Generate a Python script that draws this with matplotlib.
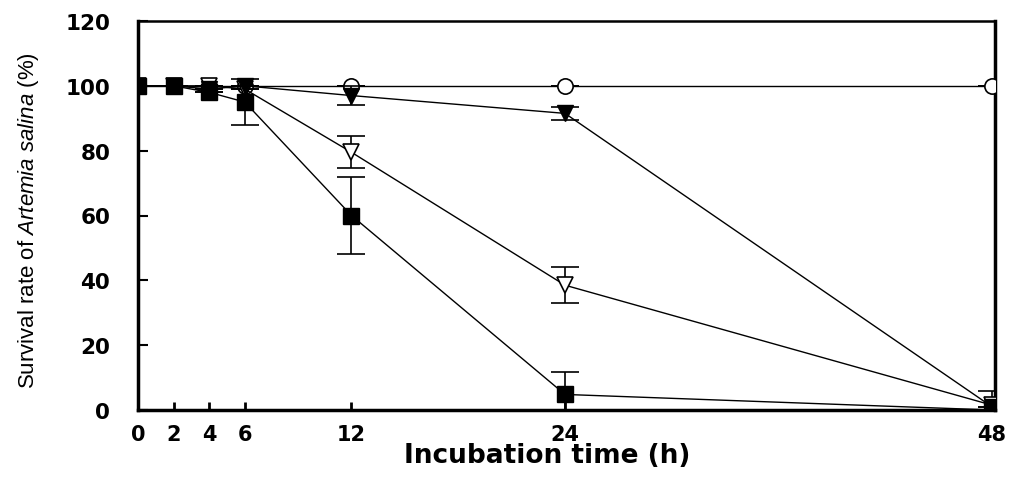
import matplotlib
matplotlib.use("Agg")
import matplotlib.pyplot as plt

plt.rcParams['mathtext.fontset'] = 'custom'
plt.rcParams['mathtext.rm'] = 'Liberation Sans'
plt.rcParams['mathtext.it'] = 'Liberation Sans:italic'
plt.rcParams['mathtext.bf'] = 'Liberation Sans:bold'

time_h = [0, 2, 4, 6, 12, 24, 48]
x_ticks = [0, 2, 4, 6, 12, 24, 48]
y_ticks = [0, 20, 40, 60, 80, 100, 120]

control = [100, 100, 100, 100, 100, 100, 100]
control_err = [0, 0, 0, 0, 0, 0, 0]

filled_tri = [100, 100, 99, 100, 97, 91.5, 1]
filled_tri_err = [0, 0, 0, 0, 3, 2, 0]

open_tri = [100, 100, 100, 99, 79.5, 38.5, 1.5]
open_tri_err = [0, 0, 0, 0, 5, 5.5, 4.5]

square = [100, 100, 98, 95, 60, 4.8, 0]
square_err = [0, 0, 0, 7, 12, 7, 0]

fig = plt.figure(figsize=(10.12, 4.85), dpi=100)
ax = fig.add_axes([138/1012, 74/485, (995-138)/1012, (411-22)/485])

common = dict(color='black', lw=1.0, capsize=10, elinewidth=1.2, capthick=1.2, markersize=11)
ax.errorbar(time_h, control, yerr=control_err, marker='o', mfc='white', mec='black',
            mew=1.2, zorder=3, **common)
ax.errorbar(time_h, open_tri, yerr=open_tri_err, marker='v', mfc='white', mec='black',
            mew=1.2, zorder=4, **common)
ax.errorbar(time_h, filled_tri, yerr=filled_tri_err, marker='v', mfc='black', mec='black',
            zorder=5, **common)
ax.errorbar(time_h, square, yerr=square_err, marker='s', mfc='black', mec='black',
            zorder=6, **common)

ax.set_xlim(0, 48.17)
ax.set_ylim(0, 120)
ax.set_xticks(x_ticks)
ax.set_yticks(y_ticks)
ax.set_xticklabels([str(v) for v in x_ticks], fontfamily='DejaVu Sans', fontweight='bold', fontsize=15)
ax.set_yticklabels([str(v) for v in y_ticks], fontfamily='DejaVu Sans', fontweight='bold', fontsize=15.5)
ax.tick_params(axis='x', direction='in', length=6, width=2, pad=10)
ax.tick_params(axis='y', direction='in', length=7, width=1.5, pad=20)

for s in ['left', 'bottom', 'right']:
    ax.spines[s].set_linewidth(2.5)
ax.spines['top'].set_linewidth(1.8)

ax.set_ylabel('Survival rate of $\\mathit{Artemia\\ salina}$ (%)', fontfamily='Liberation Sans', fontsize=16)
ax.yaxis.set_label_coords(-0.113, 0.49)
fig.text(547/1012, 1 - 456/485, 'Incubation time (h)', ha='center', va='center',
         fontfamily='DejaVu Sans', fontweight='bold', fontsize=19)

fig.savefig('out.png', dpi=100)
